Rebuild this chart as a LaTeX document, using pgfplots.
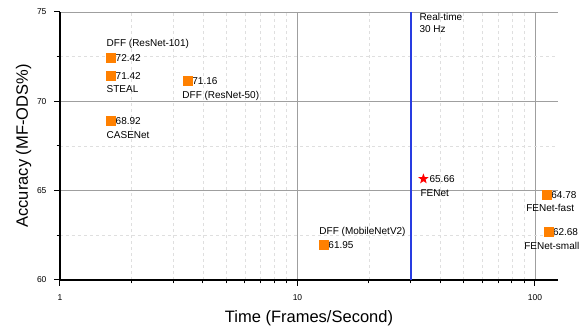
\documentclass[border=0pt]{standalone}
\usepackage{pgfplots}
\pgfplotsset{compat=1.18}
\usepackage{fontspec}
\setmainfont{Liberation Sans}
\usetikzlibrary{shapes.geometric}
\definecolor{orangec}{RGB}{255,128,0}
\definecolor{bluel}{RGB}{40,60,225}
\pgfdeclareplotmark{fstar}{\node[star,star points=5,star point ratio=2.4,fill=red,draw=none,inner sep=0pt,minimum size=11pt]{};}
\begin{document}
\begin{tikzpicture}[lbl/.style={font=\fontsize{10}{12}\selectfont, inner sep=0pt}]
\begin{axis}[
 scale only axis, width=498pt, height=268pt,
 xmode=log, xmin=1, xmax=125, ymin=60, ymax=75,
 axis x line=bottom, axis y line=left,
 axis line style={-, line width=1.2pt},
 xtick={1,10,100}, xticklabels={1,10,100},
 minor xtick={2,3,4,5,6,7,8,9,20,30,40,50,60,70,80,90},
 ytick={60,65,70,75}, minor ytick={62.5,67.5,72.5},
 tick align=outside, major tick length=6pt, minor tick length=3.5pt,
 tick style={black, line width=1pt},
 grid=both,
 major grid style={gray!75, line width=0.6pt},
 minor grid style={gray!25, dashed, line width=0.4pt},
 ticklabel style={font=\fontsize{8.5}{10}\selectfont},
 xticklabel style={yshift=-5pt},
 yticklabel style={xshift=-4pt},
 /pgf/number format/assume math mode=true,
 xlabel={Time (Frames/Second)}, ylabel={Accuracy (MF-ODS\%)},
 label style={font=\fontsize{16.5}{19}\selectfont},
 xlabel style={at={(axis description cs:0.5,-0.1418)}, anchor=center},
 ylabel style={at={(axis description cs:-0.0733,0.5)}, anchor=center},
 clip=false,
]
\addplot[color=bluel, line width=1.5pt] coordinates {(30,60) (30,75)};
\addplot[only marks, mark=square*, mark size=4.5pt, color=orangec] coordinates {
 (1.64,72.42) (1.64,71.42) (1.64,68.92) (3.45,71.16) (12.9,61.95) (112,64.78) (113.8,62.68)};
\addplot[only marks, mark=fstar] coordinates {(33.9,65.66)};

\node[lbl, anchor=west, xshift=4.5pt] at (axis cs:1.64,72.42) {72.42};
\node[lbl, anchor=west, xshift=4.5pt] at (axis cs:1.64,71.42) {71.42};
\node[lbl, anchor=west, xshift=4.5pt] at (axis cs:1.64,68.92) {68.92};
\node[lbl, anchor=west, xshift=4.5pt] at (axis cs:3.45,71.16) {71.16};
\node[lbl, anchor=west, xshift=4.5pt] at (axis cs:12.9,61.95) {61.95};
\node[lbl, anchor=west, xshift=4.5pt] at (axis cs:112,64.78) {64.78};
\node[lbl, anchor=west, xshift=4.5pt] at (axis cs:113.8,62.68) {62.68};
\node[lbl, anchor=west, xshift=6pt] at (axis cs:33.9,65.66) {65.66};

\node[lbl, anchor=west, xshift=-4.5pt, yshift=14pt] at (axis cs:1.64,72.42) {DFF (ResNet-101)};
\node[lbl, anchor=west, xshift=-4.5pt, yshift=-13pt] at (axis cs:1.64,71.42) {STEAL};
\node[lbl, anchor=west, xshift=-4.5pt, yshift=-14pt] at (axis cs:1.64,68.92) {CASENet};
\node[lbl, anchor=west, xshift=-5.5pt, yshift=-15pt] at (axis cs:3.45,71.16) {DFF (ResNet-50)};
\node[lbl, anchor=west, xshift=-4.5pt, yshift=13pt] at (axis cs:12.9,61.95) {DFF (MobileNetV2)};
\node[lbl, anchor=west, xshift=-3pt, yshift=-14pt] at (axis cs:33.9,65.66) {FENet};
\node[lbl, anchor=center, xshift=3.5pt, yshift=-13pt] at (axis cs:112,64.78) {FENet-fast};
\node[lbl, anchor=center, xshift=3.5pt, yshift=-13.5pt] at (axis cs:113.8,62.68) {FENet-small};
\node[lbl, anchor=west, xshift=8.5pt, yshift=-5pt] at (axis cs:30,75) {Real-time};
\node[lbl, anchor=west, xshift=8.5pt, yshift=-17pt] at (axis cs:30,75) {30 Hz};
\end{axis}
\pgfresetboundingbox
\path[use as bounding box] (-60pt,-48pt) rectangle (525pt,280pt);
\end{tikzpicture}
\end{document}
